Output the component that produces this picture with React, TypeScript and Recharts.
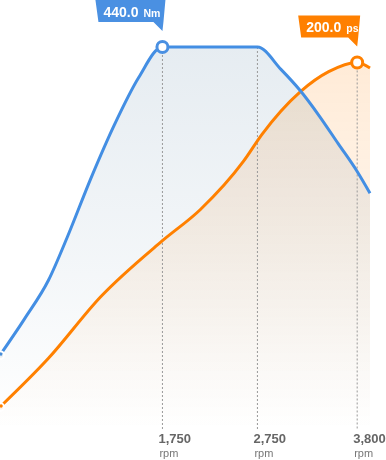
import {
  ComposedChart,
  Area,
  Line,
  XAxis,
  YAxis,
  ReferenceLine,
  ReferenceDot,
} from 'recharts';

const TORQUE_RPM = [40, 300, 550, 750, 1000, 1250, 1500, 1750, 2750, 3000, 3200, 3400, 3600, 3800, 3935];
const TORQUE = [86, 128, 172, 222, 290, 352, 405, 440, 440, 414, 390, 361, 329, 297, 272];
const POWER_RPM = [40, 550, 1100, 1750, 2150, 2600, 2800, 3200, 3500, 3800, 3935];
const POWER = [12.5, 39, 72.5, 103, 120, 146, 161, 184, 195, 200, 197];

const TICKS = [1750, 2750, 3800];
const TORQUE_PEAK = { rpm: 1750, value: 440, unit: 'Nm' };
const TORQUE_END = { rpm: 2750, value: 440 };
const POWER_PEAK = { rpm: 3800, value: 200, unit: 'ps' };

const BLUE = '#438ee3';
const ORANGE = '#ff8000';
const FONT = '"Liberation Sans", Arial, Helvetica, sans-serif';

// merge both series onto one rpm list, gaps bridged with connectNulls
const allRpm = Array.from(new Set([...TORQUE_RPM, ...POWER_RPM])).sort((a, b) => a - b);
const data = allRpm.map(rpm => {
  const ti = TORQUE_RPM.indexOf(rpm);
  const pi = POWER_RPM.indexOf(rpm);
  return {
    rpm,
    torque: ti >= 0 ? TORQUE[ti] : null,
    power: pi >= 0 ? POWER[pi] : null,
  };
});

function RpmTick({ x, y, payload }: any) {
  return (
    <g fontFamily={FONT}>
      <text x={x - 4} y={y + 13} fontSize={13} fontWeight="bold" fill="#666">
        {payload.value.toLocaleString('en-US')}
      </text>
      <text x={x - 3} y={y + 27} fontSize={11} fill="#777">
        rpm
      </text>
    </g>
  );
}

// flag label + hollow marker drawn around the peak point
function flagShape(color: string, value: number, unit: string, width: number) {
  return ({ cx, cy }: any) => {
    const top = cy - 47;
    const bottom = cy - 25;
    const right = cx + 3;
    const left = right - width;
    const path = `M${left},${top} L${right},${top} L${right - 2},${bottom} L${cx},${cy - 16} L${cx - 9},${bottom} L${left + 3},${bottom} Z`;
    return (
      <g>
        <path d={path} fill={color} />
        <text x={left + 8} y={cy - 30} fill="#fff" fontFamily={FONT}>
          <tspan fontSize={14} fontWeight="bold">{value.toFixed(1)}</tspan>
          <tspan fontSize={10.5} fontWeight="bold" dx={5}>{unit}</tspan>
        </text>
        <circle cx={cx} cy={cy} r={5.5} fill="#fff" stroke={color} strokeWidth={3} />
      </g>
    );
  };
}

export default function App() {
  return (
    <div style={{ position: 'absolute', left: 0, top: 0, width: 386, height: 460, background: '#fff' }}>
      <style>{`.power-area .recharts-area-area { mix-blend-mode: multiply; }`}</style>
      <ComposedChart width={386} height={460} data={data} margin={{ top: 0, right: 16, left: 0, bottom: 0 }}>
        <defs>
          <linearGradient id="torqueFill" x1="0" y1="0" x2="0" y2="1">
            <stop offset="0%" stopColor="rgb(100,140,170)" stopOpacity={0.27} />
            <stop offset="55%" stopColor="rgb(100,140,170)" stopOpacity={0.13} />
            <stop offset="100%" stopColor="rgb(100,140,170)" stopOpacity={0} />
          </linearGradient>
          <linearGradient id="powerFill" x1="0" y1="0" x2="0" y2="1">
            <stop offset="0%" stopColor={ORANGE} stopOpacity={0.26} />
            <stop offset="55%" stopColor={ORANGE} stopOpacity={0.12} />
            <stop offset="100%" stopColor={ORANGE} stopOpacity={0} />
          </linearGradient>
        </defs>
        <XAxis
          dataKey="rpm"
          type="number"
          domain={[40, 3935]}
          ticks={TICKS}
          axisLine={false}
          tickLine={false}
          tickSize={0}
          tickMargin={0}
          height={30}
          tick={<RpmTick />}
          interval={0}
        />
        <YAxis yAxisId="torque" hide domain={[0, 494]} />
        <YAxis yAxisId="power" hide domain={[0, 234]} />

        <Area yAxisId="torque" type="monotone" dataKey="torque" stroke="none" fill="url(#torqueFill)" connectNulls isAnimationActive={false} />
        <Area yAxisId="power" type="monotone" dataKey="power" stroke="none" fill="url(#powerFill)" className="power-area" connectNulls isAnimationActive={false} />

        <ReferenceLine yAxisId="torque" segment={[{ x: TORQUE_PEAK.rpm, y: TORQUE_PEAK.value }, { x: TORQUE_PEAK.rpm, y: 0 }]} stroke="#999" strokeDasharray="2 2" />
        <ReferenceLine yAxisId="torque" segment={[{ x: TORQUE_END.rpm, y: TORQUE_END.value }, { x: TORQUE_END.rpm, y: 0 }]} stroke="#999" strokeDasharray="2 2" />
        <ReferenceLine yAxisId="power" segment={[{ x: POWER_PEAK.rpm, y: POWER_PEAK.value }, { x: POWER_PEAK.rpm, y: 0 }]} stroke="#999" strokeDasharray="2 2" />

        <Line yAxisId="power" type="monotone" dataKey="power" stroke={ORANGE} strokeWidth={3} dot={false} activeDot={false} connectNulls isAnimationActive={false} />
        <Line yAxisId="torque" type="monotone" dataKey="torque" stroke={BLUE} strokeWidth={3} dot={false} activeDot={false} connectNulls isAnimationActive={false} />

        <ReferenceDot
          yAxisId="torque"
          x={TORQUE_PEAK.rpm}
          y={TORQUE_PEAK.value}
          r={5.5}
          shape={flagShape('#4a90e2', TORQUE_PEAK.value, TORQUE_PEAK.unit, 70)}
        />
        <ReferenceDot
          yAxisId="power"
          x={POWER_PEAK.rpm}
          y={POWER_PEAK.value}
          r={5.5}
          shape={flagShape(ORANGE, POWER_PEAK.value, POWER_PEAK.unit, 62)}
        />
      </ComposedChart>
    </div>
  );
}
